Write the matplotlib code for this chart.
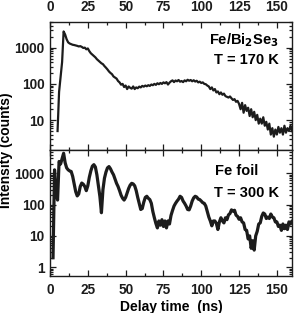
import numpy as np
import matplotlib
matplotlib.use("Agg")
import matplotlib.pyplot as plt
from matplotlib.ticker import MultipleLocator, LogLocator, NullFormatter, FixedLocator

plt.rcParams['font.family'] = ['Liberation Sans', 'DejaVu Sans']
plt.rcParams['font.weight'] = 'bold'

# ---------------- data ----------------
t_bise = np.arange(5, 161, 1.0)
i_bise = [5, 60, 150, 400, 2800, 2300, 1700, 1400, 1300, 1250,
          1200, 1180, 1150, 1120, 1080, 1100, 1050, 980, 1000, 900,
          950, 800, 700, 640, 580, 540, 480, 440, 400, 370,
          350, 310, 280, 250, 220, 200, 185, 160, 150, 140,
          120, 110, 95, 100, 82, 90, 72, 85, 78, 74,
          85, 72, 80, 76, 84, 80, 88, 84, 90, 86,
          92, 88, 96, 92, 100, 94, 104, 98, 106, 100,
          110, 104, 112, 96, 108, 118, 125, 112, 124, 118,
          128, 115, 120, 112, 125, 118, 130, 122, 128, 118,
          126, 116, 122, 110, 115, 106, 110, 100, 98, 90,
          85, 72, 80, 66, 72, 58, 62, 52, 58, 50,
          54, 46, 44, 42, 45, 40, 36, 38, 32, 34,
          28, 20, 30, 16, 26, 18, 22, 13, 20, 12,
          17, 10, 14, 8, 11, 8, 12, 7, 9, 5.5,
          8, 4, 6, 3.5, 5.5, 4, 6.5, 4.5, 6, 4,
          7, 4.5, 6, 5, 7, 5]

t_foil = np.arange(2, 162, 1.0)
i_foil = [2, 1300, 250, 140, 2400, 2000, 3000, 4400, 2200, 1500,
          1300, 1200, 1150, 800, 450, 260, 190, 220, 380, 490,
          450, 380, 280, 400, 750, 1200, 1700, 1900, 1600, 900,
          400, 180, 55, 300, 700, 1100, 1500, 1650, 1400, 1100,
          900, 650, 480, 380, 280, 200, 160, 140, 170, 240,
          330, 420, 480, 460, 400, 280, 170, 110, 70, 75,
          120, 170, 185, 160, 145, 110, 60, 38, 25, 18,
          30, 22, 33, 20, 30, 18, 30, 24, 45, 65,
          90, 110, 130, 150, 185, 170, 130, 110, 90, 70,
          68, 90, 130, 165, 185, 175, 150, 145, 130, 115,
          110, 90, 60, 40, 30, 21, 30, 30, 25, 16,
          28, 38, 30, 26, 38, 33, 47, 52, 68, 62,
          66, 46, 42, 34, 38, 28, 26, 16, 15, 8,
          10, 4, 7, 3.5, 10, 14, 24, 26, 42, 54,
          50, 36, 40, 36, 50, 40, 38, 28, 28, 20,
          22, 15, 24, 17, 22, 16, 28, 24, 30, 26]

x_ticks = [0, 25, 50, 75, 100, 125, 150]
label_bise = "Fe/Bi$_\\mathbf{2}$Se$_\\mathbf{3}$"
temp_bise = "T = 170 K"
label_foil = "Fe foil"
temp_foil = "T = 300 K"

# ---------------- figure ----------------
fig = plt.figure(figsize=(2.95, 3.13), dpi=100)
left, right = 50 / 295, 292 / 295
ax1 = fig.add_axes([left, 1 - 150 / 313, right - left, (150 - 22) / 313])
ax2 = fig.add_axes([left, 1 - 276 / 313, right - left, (276 - 150) / 313])

lc = '#1c1c1c'
ax1.plot(t_bise, i_bise, color=lc, lw=1.6)
ax2.plot(t_foil, i_foil, color=lc, lw=2.3)

for ax in (ax1, ax2):
    ax.set_yscale('log')
    ax.set_xlim(0, 160)
    ax.xaxis.set_major_locator(FixedLocator(x_ticks))
    ax.xaxis.set_minor_locator(MultipleLocator(12.5))
    ax.yaxis.set_minor_locator(LogLocator(base=10, subs=np.arange(2, 10)))
    ax.yaxis.set_minor_formatter(NullFormatter())
    ax.tick_params(which='both', direction='in', top=True, right=True,
                   labelsize=9.8, width=0.9, colors='#1c1c1c')
    ax.tick_params(which='major', length=4)
    ax.tick_params(which='minor', length=2)
    ax.tick_params(axis='y', pad=4)
    for s in ax.spines.values():
        s.set_linewidth(1.0)
        s.set_color('#1c1c1c')

ax1.set_ylim(1.5, 5100)
ax1.yaxis.set_major_locator(FixedLocator([10, 100, 1000]))
ax1.set_yticklabels(['10', '100', '1000'])
ax1.tick_params(axis='x', labelbottom=False, labeltop=True, pad=6)

ax2.set_ylim(0.52, 5600)
ax2.yaxis.set_major_locator(FixedLocator([1, 10, 100, 1000]))
ax2.set_yticklabels(['1', '10', '100', '1000'])
ax2.tick_params(axis='x', pad=5)
ax2.set_xticklabels([str(v) for v in x_ticks])
ax1.set_xticklabels([str(v) for v in x_ticks])

for ax in (ax1, ax2):
    for lab in ax.get_xticklabels() + ax.get_yticklabels():
        lab.set_fontweight('bold')

ax2.set_xlabel("Delay time  (ns)", fontsize=10, fontweight='bold', labelpad=2)
fig.text(0.02, 1 - 150 / 313, "Intensity (counts)", rotation=90, fontsize=10,
         fontweight='bold', ha='center', va='center')

ax1.text(0.945, 0.86, label_bise, transform=ax1.transAxes, ha='right', va='center',
         fontsize=10.5, fontweight='bold')
ax1.text(0.945, 0.70, temp_bise, transform=ax1.transAxes, ha='right', va='center',
         fontsize=10.5, fontweight='bold')
ax2.text(0.86, 0.83, label_foil, transform=ax2.transAxes, ha='right', va='center',
         fontsize=10.5, fontweight='bold')
ax2.text(0.945, 0.66, temp_foil, transform=ax2.transAxes, ha='right', va='center',
         fontsize=10.5, fontweight='bold')

fig.savefig("out.png", dpi=100)
